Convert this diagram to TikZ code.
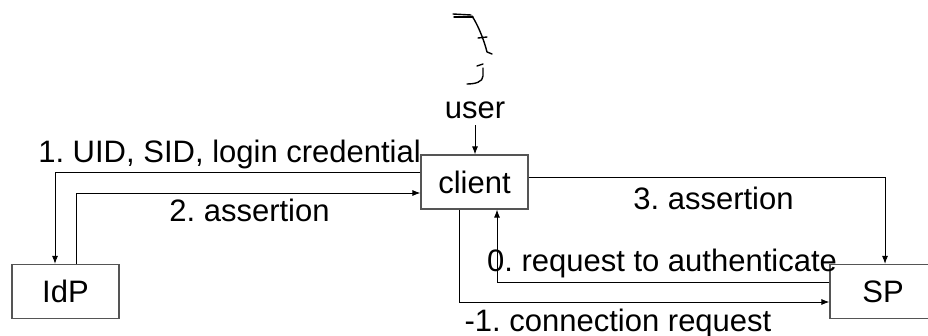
\documentclass[tikz,border=0pt]{standalone}
\usepackage{fontspec}
\setmainfont{Liberation Sans}
\usetikzlibrary{arrows.meta}
\definecolor{boxgray}{RGB}{85,85,85}
\begin{document}
\frenchspacing
\begin{tikzpicture}[x=1pt,y=-1pt,
  box/.style={draw=boxgray, line width=1.2pt, minimum width=107pt, minimum height=54pt, inner sep=0pt, font=\fontsize{31}{31}\selectfont\frenchspacing},
  lbl/.style={font=\fontsize{31}{31}\selectfont\frenchspacing, inner sep=0pt},
  conn/.style={draw=black, line width=0.9pt, -{Latex[length=8pt,width=6pt]}},
  fig/.style={draw=black, line width=1.4pt, line cap=round, line join=round}]
\useasboundingbox (0,0) rectangle (928,336);
% stick figure
\draw[fig] (453,14) -- (471,15);
\draw[fig] (454,17) -- (473,17);
\draw[fig] (472,16) .. controls (478,25) and (484,40) .. (487,52) -- (492,54);
\draw[fig] (478,38) -- (487,37);
\draw[fig] (477,66) -- (483,64);
\draw[fig] (483,68) -- (483,76) .. controls (483,82) and (475,84) .. (467,84);
% nodes
\node[lbl, anchor=base] (user) at (475,119) {user};
\node[box] (client) at (474.5,182) {client};
\node[box] (IdP) at (65.5,291.5) {IdP};
\node[box, minimum width=106pt] (SP) at (883,291.5) {SP};
% connectors
\draw[conn] ([yshift=-6pt]user.south) -- (user.south |- client.north);
\draw[conn] ([yshift=10pt]client.west) -| ([xshift=-10.5pt]IdP.north);
\draw[conn] ([xshift=10.5pt]IdP.north) |- ([yshift=-11pt]client.west);
\draw[conn] ([yshift=5pt]client.east) -| ([xshift=2pt]SP.north);
\draw[conn] ([yshift=9.5pt]SP.west) -| ([xshift=22.5pt]client.south);
\draw[conn] ([xshift=-15.5pt]client.south) |- ([yshift=-10.5pt]SP.west);
% labels
\node[lbl, anchor=base east] (l1) at (421,163) {1. UID, SID, login credential};
\node[lbl, anchor=base] (l2) at (249.5,222) {2. assertion};
\node[lbl, anchor=base] (l3) at (713.5,210) {3. assertion};
\node[lbl, anchor=base] (l0) at (662,272) {0. request to authenticate};
\node[lbl, anchor=base] (lm1) at (618,331) {-1. connection request};
\end{tikzpicture}
\end{document}
